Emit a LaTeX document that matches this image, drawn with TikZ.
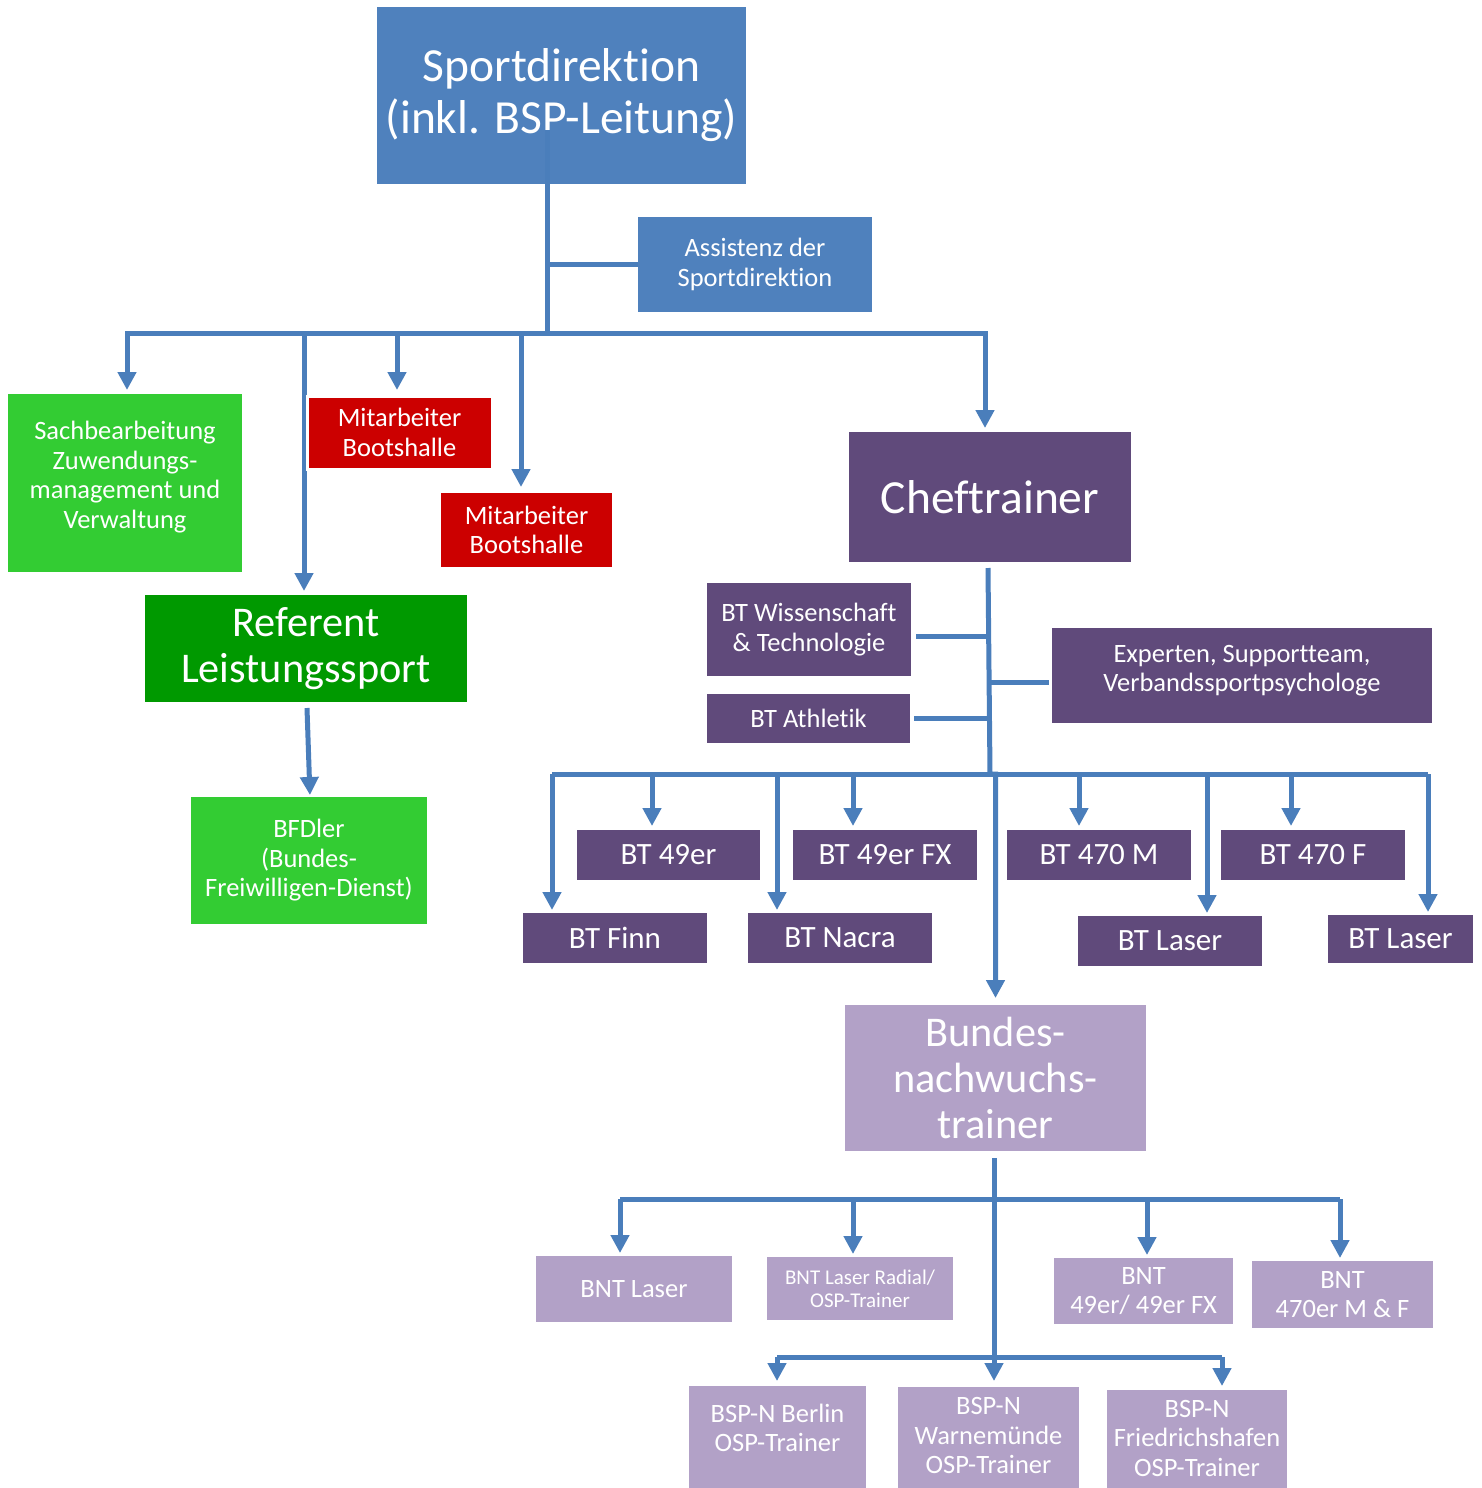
\documentclass[tikz,border=0pt]{standalone}
\usepackage{fontspec}
\setmainfont{Carlito}[Ligatures={NoCommon}]
\usetikzlibrary{arrows.meta}
\definecolor{cblue}{HTML}{4F81BD}
\definecolor{cline}{HTML}{4A7EBB}
\definecolor{cgreen}{HTML}{33CC33}
\definecolor{cdkgreen}{HTML}{009900}
\definecolor{cred}{HTML}{CC0000}
\definecolor{cpurple}{HTML}{604A7B}
\definecolor{clav}{HTML}{B2A1C7}
\newcommand\myfs[2]{\fontsize{#1}{#2}\selectfont}
\tikzset{
  box/.style={fill=#1, inner sep=0pt, outer sep=0pt, text=white, align=center, font=\myfs{26.5}{29.5}},
  big/.style={font=\myfs{47.5}{52}},
  mid/.style={font=\myfs{42.3}{46.3}},
  bt/.style={font=\myfs{31}{34}},
  txt/.style={text=white, align=center, inner sep=0pt, font=\myfs{26.5}{29.5}},
  conn/.style={draw=cline, line width=5pt},
  arr/.style={conn, -{Triangle[length=18pt,width=18pt]}, shorten >=4pt},
}
\begin{document}
\begin{tikzpicture}[x=1pt,y=-1pt]
\useasboundingbox (0,0) rectangle (1482,1488);

% top level
\node[box=cblue, big, minimum width=369, minimum height=177] (sport) at (561.5,95.5) {Sportdirektion\\(inkl. BSP-Leitung)};
\node[box=cblue, minimum width=234, minimum height=95] (assist) at (755,264.5) {Assistenz der\\Sportdirektion};
\node[box=cgreen, minimum width=234, minimum height=178,
  label={[txt,yshift=6pt]center:Sachbearbeitung\\Zuwendungs-\\management und\\Verwaltung}] (sach) at (125,483) {};
\node[box=cred, minimum width=171, minimum height=74] (mit2) at (526.5,530) {Mitarbeiter\\Bootshalle};
\node[box=cpurple, big, minimum width=282, minimum height=130] (chef) at (990,497) {Cheftrainer};
\node[box=cdkgreen, mid, minimum width=322, minimum height=107] (ref) at (306,648.5) {Referent\\Leistungssport};
\node[box=cgreen, minimum width=236, minimum height=127] (bfd) at (309,860.5) {BFDler\\(Bundes-\\Freiwilligen-Dienst)};

% Cheftrainer staff
\node[box=cpurple, minimum width=204, minimum height=93] (wiss) at (809,629.5) {BT Wissenschaft\\\& Technologie};
\node[box=cpurple, minimum width=203, minimum height=49] (ath) at (808.5,718.5) {BT Athletik};
\node[box=cpurple, minimum width=380, minimum height=95,
  label={[txt,yshift=5pt]center:Experten, Supportteam,\\Verbandssportpsychologe}] (exp) at (1242,675.5) {};

% BT boxes
\node[box=cpurple, bt, minimum width=183, minimum height=50] (bt49) at (668.5,855) {BT 49er};
\node[box=cpurple, bt, minimum width=184, minimum height=50] (bt49fx) at (885,855) {BT 49er FX};
\node[box=cpurple, bt, minimum width=184, minimum height=50] (bt470m) at (1099,855) {BT 470 M};
\node[box=cpurple, bt, minimum width=184, minimum height=50] (bt470f) at (1313,855) {BT 470 F};
\node[box=cpurple, bt, minimum width=184, minimum height=50] (finn) at (615,938) {BT Finn};
\node[box=cpurple, bt, minimum width=184, minimum height=50] (nacra) at (840,938) {BT Nacra};
\node[box=cpurple, bt, minimum width=184, minimum height=50] (laser1) at (1170,941) {BT Laser};
\node[box=cpurple, bt, minimum width=145, minimum height=48] (laser2) at (1400.5,939) {BT Laser};

% Nachwuchs
\node[box=clav, mid, minimum width=301, minimum height=146] (bundes) at (995.5,1078) {Bundes-\\nachwuchs-\\trainer};
\node[box=clav, minimum width=196, minimum height=66] (bntl) at (634,1289) {BNT Laser};
\node[box=clav, font=\myfs{21}{23}, minimum width=186, minimum height=63] (bntr) at (860,1288.5) {BNT Laser Radial/\\OSP-Trainer};
\node[box=clav, minimum width=179, minimum height=66] (bnt49) at (1143.5,1291) {BNT\\49er/ 49er FX};
\node[box=clav, minimum width=181, minimum height=67] (bnt470) at (1342.5,1294.5) {BNT\\470er M \& F};
\node[box=clav, minimum width=177, minimum height=114,
  label={[txt,yshift=15pt]center:BSP-N Berlin\\OSP-Trainer}] (berlin) at (777.5,1443) {};
\node[box=clav, minimum width=181, minimum height=113,
  label={[txt,yshift=8pt]center:BSP-N\\Warnemünde\\OSP-Trainer}] (warn) at (988.5,1443.5) {};
\node[box=clav, minimum width=180, minimum height=110,
  label={[txt,yshift=7pt]center:BSP-N\\Friedrichshafen\\OSP-Trainer}] (fried) at (1197,1445) {};

% ---- connectors: top level
\coordinate (s0) at (547,130);
\coordinate (s1) at (547,333);
\coordinate (b1l) at (127,333);
\coordinate (b1r) at (985,333);
\draw[conn] (s0) -- (s1);
\draw[conn] (s0 |- assist.west) -- (assist.west);
\draw[arr] (s1) -- (b1l) -- (b1l |- sach.north);
\draw[arr] (s1) -- (b1r) -- (b1r |- chef.north);
\draw[arr] ([xshift=-2pt]ref.north |- b1l) -- ([xshift=-2pt]ref.north);
\draw[arr, shorten >=6pt] ([xshift=-5.5pt]mit2.north |- b1l) -- ([xshift=-5.5pt]mit2.north);
\node[box=cred, draw=white, line width=3pt, minimum width=185, minimum height=73] (mit1) at (399.5,432.5) {Mitarbeiter\\Bootshalle};
\draw[arr, shorten >=6pt] ([xshift=-2.5pt]mit1.north |- b1l) -- ([xshift=-2.5pt]mit1.north);
\draw[arr, shorten >=2pt] ([xshift=1pt,yshift=-6pt]ref.south) -- ([xshift=1pt]bfd.north);

% ---- Cheftrainer
\coordinate (c0) at (988,568);
\coordinate (jw) at (988,636);
\coordinate (je) at (989,682);
\coordinate (ja) at (989,718);
\coordinate (b2l) at (552,774);
\coordinate (b2r) at (1428,774);
\coordinate (b2m) at (990,774);
\draw[arr, shorten >=7pt] (c0) -- (b2m) -- (b2m -| bundes.north) -- (bundes.north);
\draw[conn, shorten >=5pt] (jw) -- (jw -| wiss.east);
\draw[conn, shorten >=4pt] (ja) -- (ja -| ath.east);
\draw[conn, shorten >=3pt] (je) -- (je -| exp.west);
\draw[conn] (b2l) -- (b2r);
\draw[arr, shorten >=3pt] (b2l) -- (b2l |- finn.north);
\draw[arr] ([xshift=-16.5pt]bt49.north |- b2l) -- ([xshift=-16.5pt]bt49.north);
\draw[arr, shorten >=3pt] ([xshift=-63pt]nacra.north |- b2l) -- ([xshift=-63pt]nacra.north);
\draw[arr] ([xshift=-32pt]bt49fx.north |- b2l) -- ([xshift=-32pt]bt49fx.north);
\draw[arr] ([xshift=-20pt]bt470m.north |- b2l) -- ([xshift=-20pt]bt470m.north);
\draw[arr, shorten >=3pt] ([xshift=37pt]laser1.north |- b2l) -- ([xshift=37pt]laser1.north);
\draw[arr] ([xshift=-22pt]bt470f.north |- b2l) -- ([xshift=-22pt]bt470f.north);
\draw[arr, shorten >=3pt] (b2r) -- (b2r |- laser2.north);

% ---- Bundesnachwuchstrainer
\coordinate (n0) at (994,1158);
\coordinate (b3l) at (620,1199);
\coordinate (b3r) at (1340,1199);
\coordinate (b4l) at (777,1357);
\coordinate (b4r) at (1222,1357);
\draw[arr, shorten >=6pt] (n0) -- (n0 |- warn.north);
\draw[conn] (b3l) -- (b3r);
\draw[arr, shorten >=3pt] (b3l) -- (b3l |- bntl.north);
\draw[arr, shorten >=3pt] ([xshift=-7pt]bntr.north |- b3l) -- ([xshift=-7pt]bntr.north);
\draw[arr, shorten >=3pt] ([xshift=3.5pt]bnt49.north |- b3l) -- ([xshift=3.5pt]bnt49.north);
\draw[arr, shorten >=3pt] (b3r) -- (b3r |- bnt470.north);
\draw[conn] (b4l) -- (b4r);
\draw[arr, shorten >=5pt] (b4l) -- (b4l |- berlin.north);
\draw[arr, shorten >=4pt] (b4r) -- (b4r |- fried.north);
\end{tikzpicture}
\end{document}
